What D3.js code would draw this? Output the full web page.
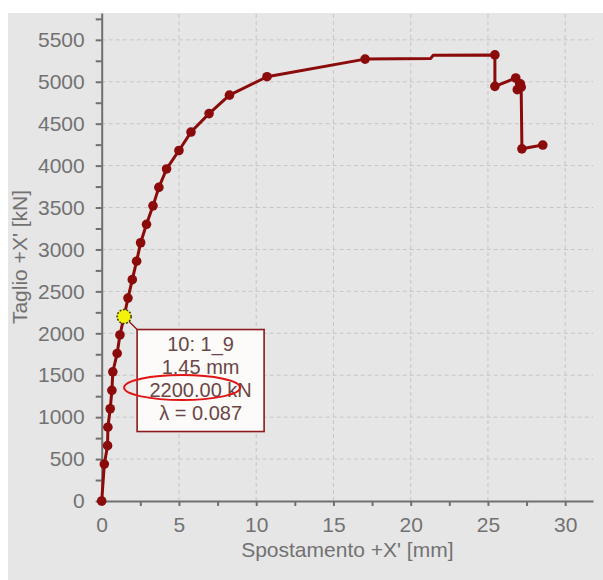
<!DOCTYPE html>
<html>
<head>
<meta charset="utf-8">
<script src="https://cdn.jsdelivr.net/npm/d3@7"></script>
<style>
  body { margin: 0; background: #fff; }
  svg { display: block; font-family: "Liberation Sans", Arial, sans-serif; }
</style>
</head>
<body>
<script>
const width = 603;
const height = 580;

// Pushover curve: displacement [mm] and base shear [kN].
const dispX = [0, 0.17, 0.38, 0.40, 0.55, 0.66, 0.72, 1.0, 1.18, 1.45, 1.7, 1.98, 2.26, 2.52,
  2.9, 3.32, 3.7, 4.2, 5.0, 5.78, 6.95, 8.27, 10.7, 17.05, 21.3, 21.45, 25.45, 25.45,
  26.8, 26.9, 27.1, 27.15, 27.2, 28.55];
const shear = [0, 440, 660, 880, 1100, 1320, 1540, 1760, 1980, 2200, 2420, 2640, 2860, 3080,
  3300, 3520, 3740, 3960, 4180, 4400, 4620, 4840, 5060, 5270, 5278, 5315, 5320, 4945,
  5045, 4905, 4975, 4935, 4200, 4245];
// Steps where the solver wrote no marker.
const hasMarker = dispX.map((d, i) => i !== 24 && i !== 25);

const xTicks = d3.range(0, 31, 2.5);
const yTicks = d3.range(0, 5751, 250);

// Tooltip for the selected step.
const selected = 9;
const tipLines = ["10: 1_9", "1.45 mm", "2200.00 kN", "λ = 0.087"];
const circledLine = 2;

const lineColor = "#8b0a0a";
const axisColor = "#707070";
const textColor = "#727272";

const svg = d3.select("body").append("svg")
  .attr("width", width)
  .attr("height", height);

// Gray panel behind everything.
svg.append("rect")
  .attr("x", 8).attr("y", 13)
  .attr("width", width - 8).attr("height", height - 13)
  .attr("fill", "#e6e6e6");

const x = d3.scaleLinear().domain([0, 31.8]).range([101.7, 593]);
const y = d3.scaleLinear().domain([0, 5820]).range([501, 13]);

// Dashed grid at the labelled ticks.
const grid = svg.append("g").attr("stroke", "#c6c6c6").attr("stroke-dasharray", "4,3");
grid.selectAll(".gx")
  .data(xTicks.filter(d => d > 0 && d % 5 === 0))
  .enter().append("line")
  .attr("x1", d => x(d)).attr("x2", d => x(d))
  .attr("y1", y.range()[0]).attr("y2", y.range()[1]);
grid.selectAll(".gy")
  .data(yTicks.filter(d => d > 0 && d % 500 === 0))
  .enter().append("line")
  .attr("x1", x.range()[0]).attr("x2", x.range()[1])
  .attr("y1", d => y(d)).attr("y2", d => y(d));

// Axes.
const xAxis = svg.append("g")
  .attr("transform", `translate(0,${y(0)})`)
  .call(d3.axisBottom(x)
    .tickValues(xTicks)
    .tickSize(5)
    .tickSizeOuter(0)
    .tickPadding(11)
    .tickFormat(d => d % 5 === 0 ? d : ""));

const yAxis = svg.append("g")
  .attr("transform", `translate(${x(0)},0)`)
  .call(d3.axisLeft(y)
    .tickValues(yTicks)
    .tickSize(6)
    .tickSizeOuter(0)
    .tickPadding(11)
    .tickFormat(d => d % 500 === 0 ? d : ""));

[xAxis, yAxis].forEach(a => {
  a.select(".domain").attr("stroke", axisColor).attr("stroke-width", 2);
  a.selectAll(".tick line").attr("stroke", axisColor).attr("stroke-width", 2);
  a.selectAll(".tick text")
    .attr("fill", textColor)
    .style("font-size", "21px");
});

// Axis titles.
svg.append("text")
  .attr("x", (x.range()[0] + x.range()[1]) / 2)
  .attr("y", 557)
  .attr("text-anchor", "middle")
  .attr("fill", textColor)
  .style("font-size", "21px")
  .text("Spostamento +X' [mm]");

svg.append("text")
  .attr("transform", `translate(27,${(y.range()[0] + y.range()[1]) / 2}) rotate(-90)`)
  .attr("text-anchor", "middle")
  .attr("fill", textColor)
  .style("font-size", "21px")
  .text("Taglio +X' [kN]");

// Curve.
const pts = dispX.map((d, i) => ({ d, v: shear[i], m: hasMarker[i] }));

svg.append("path")
  .datum(pts)
  .attr("fill", "none")
  .attr("stroke", lineColor)
  .attr("stroke-width", 3)
  .attr("stroke-linejoin", "round")
  .attr("d", d3.line().x(p => x(p.d)).y(p => y(p.v)));

svg.selectAll(".pt")
  .data(pts.filter(p => p.m))
  .enter().append("circle")
  .attr("class", "pt")
  .attr("cx", p => x(p.d))
  .attr("cy", p => y(p.v))
  .attr("r", 4.8)
  .attr("fill", lineColor);

// Selected point and its tooltip.
const sx = x(dispX[selected]);
const sy = y(shear[selected]);
const boxX = sx + 13;
const boxY = sy + 13;
const boxW = 127;
const boxH = 102;

svg.append("line")
  .attr("x1", sx + 4).attr("y1", sy + 4)
  .attr("x2", boxX).attr("y2", boxY)
  .attr("stroke", lineColor)
  .attr("stroke-width", 1.2);

svg.append("circle")
  .attr("cx", sx).attr("cy", sy).attr("r", 7)
  .attr("fill", "#f2f20a")
  .attr("stroke", "#3a3a00")
  .attr("stroke-width", 1.5)
  .attr("stroke-dasharray", "2,1.5");

svg.append("rect")
  .attr("x", boxX).attr("y", boxY)
  .attr("width", boxW).attr("height", boxH)
  .attr("fill", "#fdfafa")
  .attr("stroke", "#8b1a1a")
  .attr("stroke-width", 1.6);

svg.selectAll(".tip")
  .data(tipLines)
  .enter().append("text")
  .attr("class", "tip")
  .attr("x", boxX + boxW / 2)
  .attr("y", (d, i) => boxY + 21 + i * 23)
  .attr("text-anchor", "middle")
  .attr("fill", "#6a4646")
  .style("font-size", "20px")
  .text(d => d);

// Red highlight ring on the force line.
svg.append("ellipse")
  .attr("cx", boxX + 45)
  .attr("cy", boxY + 21 + circledLine * 23 - 9)
  .attr("rx", 58)
  .attr("ry", 12.5)
  .attr("fill", "none")
  .attr("stroke", "#e01414")
  .attr("stroke-width", 2);
</script>
</body>
</html>
